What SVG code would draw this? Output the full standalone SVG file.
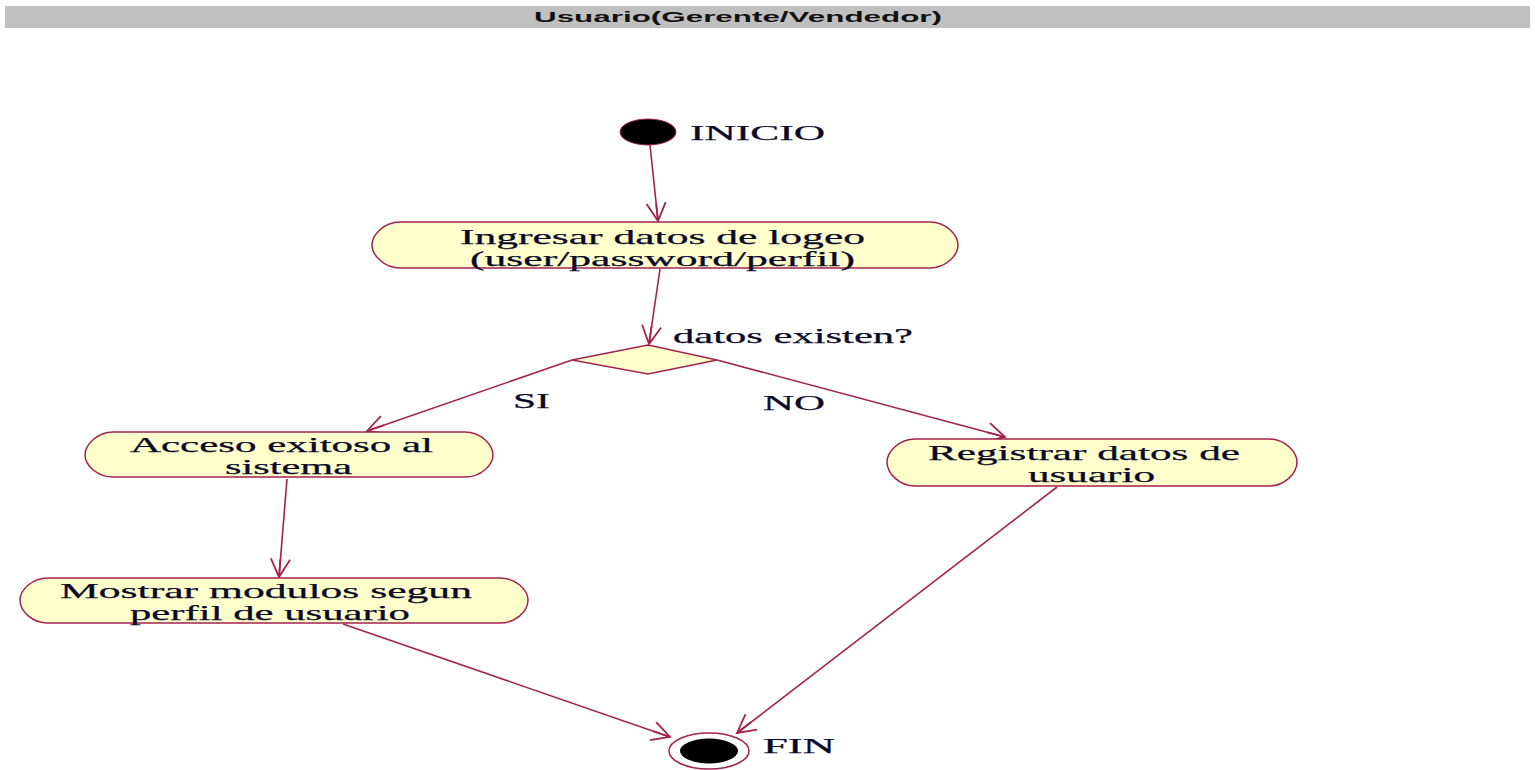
<svg xmlns="http://www.w3.org/2000/svg" width="1535" height="770" viewBox="0 0 1535 770">
  <style>
    .lbl { font-family: "Liberation Serif", "Times New Roman", serif; font-size: 21px; fill: #0a0a28; stroke: #0a0a28; stroke-width: 0.25; }
    .act { fill: #ffffcc; stroke: #a3224f; stroke-width: 1.5; }
    .edge { fill: none; stroke: #a3224f; stroke-width: 1.6; marker-end: url(#open); }
    .title { font-family: "Liberation Sans", Arial, sans-serif; font-weight: bold; font-size: 15px; fill: #111; }
  </style>
  <defs>
    <marker id="open" markerUnits="userSpaceOnUse" markerWidth="24" markerHeight="24" viewBox="-16 -10 20 20" refX="0" refY="0" orient="auto">
      <path d="M-15,-8 L0,0 L-15,8 M-15,0 L0,0" fill="none" stroke="#a3224f" stroke-width="1.5"/>
    </marker>
  </defs>

  <rect x="0" y="0" width="1535" height="770" fill="#ffffff"/>

  <!-- swimlane header -->
  <g id="lane">
    <rect x="5" y="6" width="1525" height="22" fill="#c0c0c0"/>
    <text class="title" x="534" y="22" textLength="408" lengthAdjust="spacingAndGlyphs">Usuario(Gerente/Vendedor)</text>
  </g>

  <!-- connectors -->
  <g id="edges">
    <line class="edge" x1="650" y1="145" x2="658" y2="221"/>
    <line class="edge" x1="660" y1="269" x2="649" y2="344"/>
    <line class="edge" x1="572" y1="360" x2="367" y2="431"/>
    <line class="edge" x1="717" y1="360" x2="1005" y2="437"/>
    <line class="edge" x1="287" y1="479" x2="279" y2="577"/>
    <line class="edge" x1="343" y1="624" x2="670" y2="737"/>
    <line class="edge" x1="1057" y1="487" x2="737" y2="733"/>
  </g>
  <g id="edge-labels">
    <text class="lbl" x="513" y="408" textLength="37" lengthAdjust="spacingAndGlyphs">SI</text>
    <text class="lbl" x="763" y="410" textLength="62" lengthAdjust="spacingAndGlyphs">NO</text>
  </g>

  <!-- start -->
  <g id="inicio">
    <ellipse cx="648" cy="132" rx="28" ry="13" fill="#000" stroke="#a3224f" stroke-width="1"/>
    <text class="lbl" x="690" y="140" textLength="135" lengthAdjust="spacingAndGlyphs">INICIO</text>
  </g>

  <g id="ingresar">
    <path class="act" d="M400,222 H930 C946,222 958,235 958,245 C958,255 946,268 930,268 H400 C384,268 372,255 372,245 C372,235 384,222 400,222 Z"/>
    <text class="lbl" x="460" y="244" textLength="405" lengthAdjust="spacingAndGlyphs">Ingresar datos de logeo</text>
    <text class="lbl" x="470" y="266" textLength="385" lengthAdjust="spacingAndGlyphs">(user/password/perfil)</text>
  </g>

  <g id="decision">
    <polygon points="648,345 717,360 648,374 572,360" fill="#ffffcc" stroke="#a3224f" stroke-width="1.5"/>
    <text class="lbl" x="673" y="343" textLength="240" lengthAdjust="spacingAndGlyphs">datos existen?</text>
  </g>

  <g id="acceso">
    <path class="act" d="M113,432 H465 C481,432 493,445 493,455 C493,465 481,477 465,477 H113 C97,477 85,465 85,455 C85,445 97,432 113,432 Z"/>
    <text class="lbl" x="130" y="452" textLength="303" lengthAdjust="spacingAndGlyphs">Acceso exitoso al</text>
    <text class="lbl" x="225" y="474" textLength="127" lengthAdjust="spacingAndGlyphs">sistema</text>
  </g>

  <g id="registrar">
    <path class="act" d="M915,439 H1269 C1285,439 1297,452 1297,462 C1297,473 1285,486 1269,486 H915 C899,486 887,473 887,462 C887,452 899,439 915,439 Z"/>
    <text class="lbl" x="928" y="460" textLength="312" lengthAdjust="spacingAndGlyphs">Registrar datos de</text>
    <text class="lbl" x="1028" y="482" textLength="127" lengthAdjust="spacingAndGlyphs">usuario</text>
  </g>

  <g id="mostrar">
    <path class="act" d="M48,578 H500 C516,578 528,590 528,600 C528,611 516,623 500,623 H48 C32,623 20,611 20,600 C20,590 32,578 48,578 Z"/>
    <text class="lbl" x="60" y="598" textLength="412" lengthAdjust="spacingAndGlyphs">Mostrar modulos segun</text>
    <text class="lbl" x="130" y="620" textLength="280" lengthAdjust="spacingAndGlyphs">perfil de usuario</text>
  </g>

  <!-- end -->
  <g id="fin">
    <ellipse cx="709" cy="751" rx="40" ry="18" fill="#ffffff" stroke="#a3224f" stroke-width="1.5"/>
    <ellipse cx="709" cy="751" rx="29" ry="12.5" fill="#000"/>
    <text class="lbl" x="763" y="753" textLength="72" lengthAdjust="spacingAndGlyphs">FIN</text>
  </g>
</svg>
